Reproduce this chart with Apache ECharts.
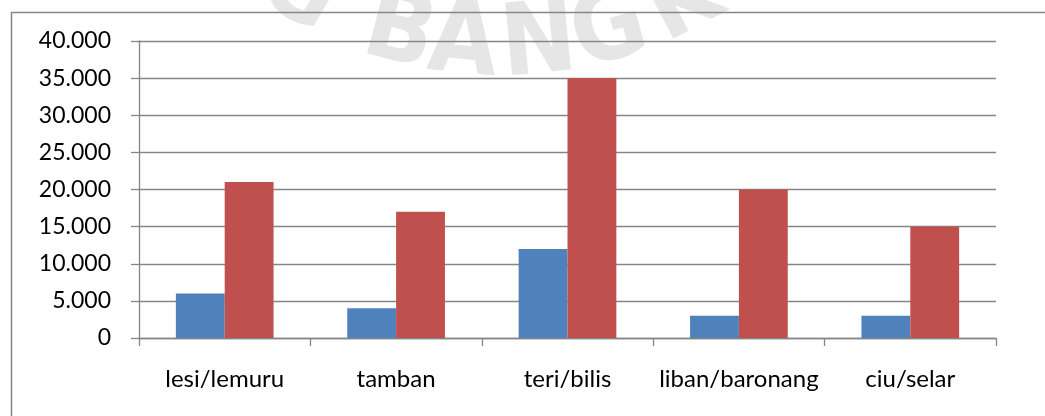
<!DOCTYPE html>
<html>
<head>
<meta charset="utf-8">
<script src="https://cdn.jsdelivr.net/npm/echarts@6/dist/echarts.min.js"></script>
<style>
html,body{margin:0;padding:0;background:#fff;}
#chart{width:1045px;height:416px;}
</style>
</head>
<body>
<div id="chart"></div>
<script>
const categories = ['lesi/lemuru', 'tamban', 'teri/bilis', 'liban/baronang', 'ciu/selar'];
const seriesBlue = [6000, 4000, 12000, 3000, 3000];
const seriesRed = [21000, 17000, 35000, 20000, 15000];
const yTicks = { min: 0, max: 40000, interval: 5000 };

const FONT = 'Lato';
const GRAY = '#868686';

function fmt(v) {
  if (v === 0) return '0';
  const s = String(Math.round(v));
  return s.replace(/\B(?=(\d{3})+(?!\d))/g, '.');
}

// faint watermark letters along an arc (background decoration)
const wmText = ['G', 'B', 'A', 'N', 'G', 'K'];
const wmX = [298, 399, 463, 539, 610, 685];
const wmCenterX = 501, wmR = 400, wmBottom = 86;
const wmGraphics = wmText.map((t, i) => {
  const dx = wmX[i] - wmCenterX;
  const drop = wmR - Math.sqrt(wmR * wmR - dx * dx);
  return {
    type: 'text',
    x: wmX[i], y: wmBottom - drop - 38,
    rotation: Math.asin(dx / wmR),
    style: {
      text: t,
      fill: '#e6e6e6',
      font: 'bold 100px "DejaVu Sans Condensed"',
      align: 'center',
      verticalAlign: 'middle'
    },
    z: -10
  };
});

const chart = echarts.init(document.getElementById('chart'), null, { renderer: 'canvas' });
chart.setOption({
  animation: false,
  backgroundColor: '#ffffff',
  graphic: {
    elements: [
      ...wmGraphics,
      {
        type: 'rect',
        shape: { x: 11.5, y: 12.5, width: 1200, height: 600 },
        style: { fill: 'none', stroke: GRAY, lineWidth: 1.5 },
        z: -5
      }
    ]
  },
  grid: { left: 139, right: 49, top: 41, bottom: 78, containLabel: false },
  xAxis: {
    type: 'category',
    data: categories,
    axisLine: { show: true, lineStyle: { color: GRAY, width: 1.3 } },
    axisTick: { show: true, length: 8, lineStyle: { color: GRAY, width: 1.3 } },
    axisLabel: { color: '#000', fontFamily: FONT, fontSize: 24, margin: 29, interval: 0 },
    splitLine: { show: false }
  },
  yAxis: {
    type: 'value',
    min: yTicks.min, max: yTicks.max, interval: yTicks.interval,
    axisLine: { show: true, lineStyle: { color: GRAY, width: 1.3 } },
    axisTick: { show: true, length: 8, lineStyle: { color: GRAY, width: 1.3 } },
    axisLabel: { color: '#000', fontFamily: FONT, fontSize: 23, margin: 28, formatter: fmt },
    splitLine: { show: true, lineStyle: { color: GRAY, width: 1.3 } }
  },
  series: [
    {
      type: 'bar', data: seriesBlue, barGap: '0%', barCategoryGap: '43%',
      itemStyle: { color: '#4F81BD' }
    },
    {
      type: 'bar', data: seriesRed, barGap: '0%', barCategoryGap: '43%',
      itemStyle: { color: '#C0504D' }
    }
  ]
});
</script>
</body>
</html>
